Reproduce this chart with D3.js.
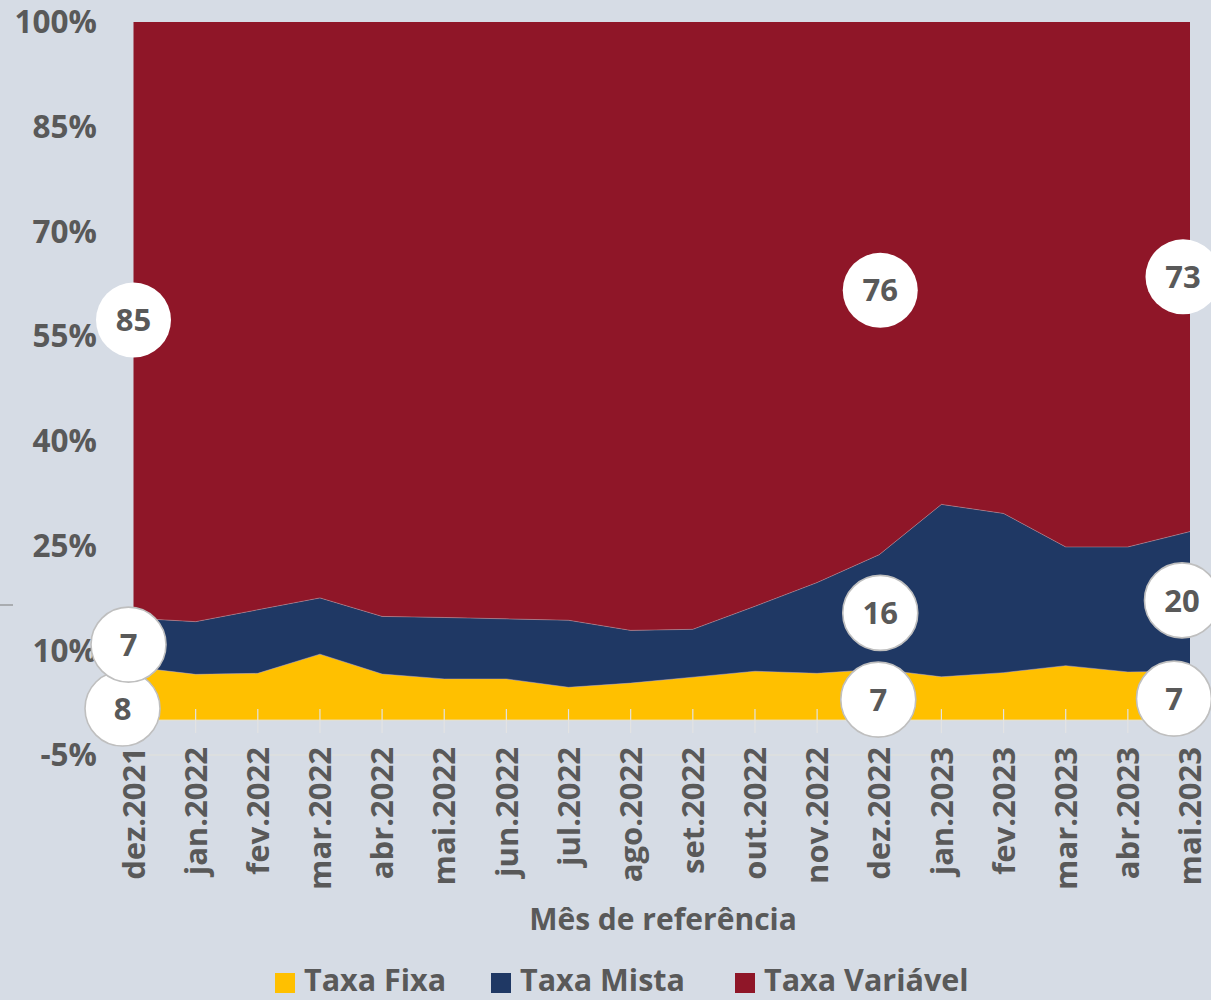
<!DOCTYPE html>
<html>
<head>
<meta charset="utf-8">
<script src="https://cdn.jsdelivr.net/npm/d3@7"></script>
<style>
  html, body { margin: 0; padding: 0; background: #d6dce5; }
  #chart { width: 1211px; height: 1000px; }
  text { font-family: "Open Sans", sans-serif; font-weight: 700; fill: #595959; }
</style>
</head>
<body>
<div id="chart"></div>
<script>
// months on the category axis
const months = ["dez.2021", "jan.2022", "fev.2022", "mar.2022", "abr.2022", "mai.2022",
  "jun.2022", "jul.2022", "ago.2022", "set.2022", "out.2022", "nov.2022",
  "dez.2022", "jan.2023", "fev.2023", "mar.2023", "abr.2023", "mai.2023"];

// share of each rate type (%)
const taxaFixa = [7.6, 6.55, 6.7, 9.45, 6.6, 5.9, 5.9, 4.7, 5.3, 6.15, 7.0, 6.7, 7.3, 6.2, 6.8, 7.8, 6.9, 7.0];
const taxaMista = [7.0, 7.55, 9.1, 8.05, 8.25, 8.8, 8.6, 9.6, 7.55, 6.85, 9.3, 13.0, 16.4, 24.7, 22.8, 17.0, 17.9, 20.0];
const taxaVariavel = [85.4, 85.9, 84.2, 82.5, 85.15, 85.3, 85.5, 85.7, 87.15, 87.0, 83.7, 80.3, 76.3, 69.1, 70.4, 75.2, 75.2, 73.0];

const seriesKeys = ["fixa", "mista", "variavel"];
const seriesNames = ["Taxa Fixa", "Taxa Mista", "Taxa Variável"];
const yTicks = [-5, 10, 25, 40, 55, 70, 85, 100];

// which months get a bubble label
const labelMonths = ["dez.2021", "dez.2022", "mai.2023"];

const colors = { fixa: "#ffc000", mista: "#1f3864", variavel: "#8f1628" };

const width = 1211, height = 1000;
const svg = d3.select('#chart')
  .append('svg')
  .attr('width', width)
  .attr('height', height)
  .attr('viewBox', [0, 0, width, height]);

const table = months.map((m, i) => ({
  month: m,
  fixa: taxaFixa[i],
  mista: taxaMista[i],
  variavel: taxaVariavel[i]
}));

const x = d3.scalePoint()
  .domain(months)
  .range([133.5, 1190]);

const y = d3.scaleLinear()
  .domain([-5, 100])
  .range([755, 22]);

const stacked = d3.stack().keys(seriesKeys)(table);

// faint gridline at the bottom of the value range
svg.append('line')
  .attr('x1', x(months[0])).attr('x2', x(months[months.length - 1]))
  .attr('y1', y(-5)).attr('y2', y(-5))
  .attr('stroke', '#e2e2da').attr('stroke-width', 1);

const area = d3.area()
  .x(d => x(d.data.month))
  .y0(d => y(d[0]))
  .y1(d => y(d[1]));

svg.append('g')
  .selectAll('path')
  .data(stacked)
  .join('path')
  .attr('fill', d => colors[d.key])
  .attr('d', area);

// thin light edge on top of the lower series
const topLine = d3.line()
  .x(d => x(d.data.month))
  .y(d => y(d[1]));

svg.append('g')
  .selectAll('path')
  .data(stacked.slice(0, 2))
  .join('path')
  .attr('fill', 'none')
  .attr('stroke', '#c8a9b0')
  .attr('stroke-opacity', 0.55)
  .attr('stroke-width', 0.8)
  .attr('d', topLine);

// category axis at 0%
const xAxis = svg.append('g')
  .attr('transform', `translate(0,${y(0)})`);

xAxis.append('line')
  .attr('x1', x(months[0])).attr('x2', x(months[months.length - 1]))
  .attr('stroke', '#e8e1c8').attr('stroke-width', 1);

xAxis.selectAll('.tick')
  .data(months.slice(1))
  .join('line')
  .attr('class', 'tick')
  .attr('x1', d => x(d)).attr('x2', d => x(d))
  .attr('y1', -11).attr('y2', 13)
  .attr('stroke', '#e3e3e3').attr('stroke-width', 1.2);

svg.append('g')
  .selectAll('text')
  .data(months)
  .join('text')
  .attr('transform', d => `translate(${x(d)},747) rotate(-90)`)
  .attr('text-anchor', 'end')
  .attr('dy', '0.36em')
  .style('font-size', '31px')
  .text(d => d);

// value axis labels
svg.append('g')
  .selectAll('text')
  .data(yTicks)
  .join('text')
  .attr('x', 97)
  .attr('y', d => y(d))
  .attr('dy', '0.36em')
  .attr('text-anchor', 'end')
  .style('font-size', '31.5px')
  .text(d => d + '%');

// stray dash at left edge
svg.append('line')
  .attr('x1', 0).attr('x2', 13)
  .attr('y1', 605).attr('y2', 605)
  .attr('stroke', '#8c8c8c').attr('stroke-width', 1.2);

// axis title
svg.append('text')
  .attr('x', 663)
  .attr('y', 930)
  .attr('text-anchor', 'middle')
  .style('font-size', '30px')
  .text('Mês de referência');

/* BUBBLE LABELS */
const labelOffsets = {
  "dez.2021": { fixa: [-11, 15], mista: [-5, 2], variavel: [0, 0] },
  "dez.2022": { fixa: [-1, 5], mista: [1, 1], variavel: [1, 2] },
  "mai.2023": { fixa: [-16, 3], mista: [-8, -1], variavel: [-7, 0] }
};

const bubbles = [];
stacked.forEach(s => {
  s.forEach((d, i) => {
    const m = months[i];
    if (labelMonths.indexOf(m) < 0) return;
    const off = labelOffsets[m][s.key];
    bubbles.push({
      key: s.key,
      cx: x(m) + off[0],
      cy: y((d[0] + d[1]) / 2) + off[1],
      value: d.data[s.key]
    });
  });
});

const bubbleG = svg.append('g')
  .selectAll('g')
  .data(bubbles)
  .join('g')
  .attr('transform', d => `translate(${d.cx},${d.cy})`);

bubbleG.append('circle')
  .attr('r', 37.5)
  .attr('fill', '#ffffff')
  .attr('stroke', d => d.key === 'variavel' ? 'none' : '#bfbfbf')
  .attr('stroke-width', 1.6);

bubbleG.append('text')
  .attr('text-anchor', 'middle')
  .attr('dy', '0.36em')
  .style('font-size', '31px')
  .text(d => Math.round(d.value));

/* LEGEND */
const legendX = [275, 491, 735];
const legend = svg.append('g');
seriesKeys.forEach((k, i) => {
  legend.append('rect')
    .attr('x', legendX[i]).attr('y', 973)
    .attr('width', 20).attr('height', 20)
    .attr('fill', colors[k]);
  legend.append('text')
    .attr('x', legendX[i] + 29)
    .attr('y', 991)
    .style('font-size', '30.5px')
    .text(seriesNames[i]);
});
</script>
</body>
</html>
